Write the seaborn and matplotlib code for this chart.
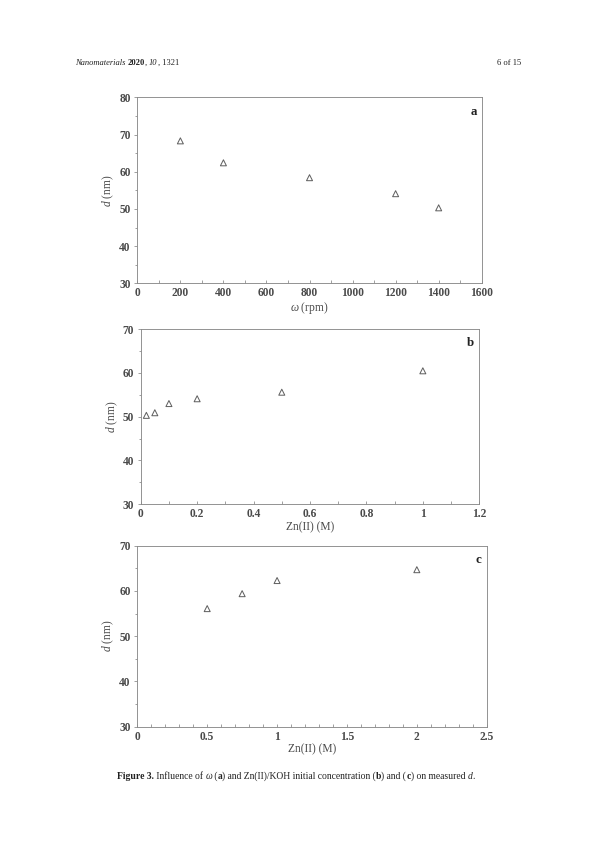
import matplotlib
matplotlib.use("Agg")
import matplotlib.pyplot as plt
import seaborn as sns
import pandas as pd
from matplotlib.ticker import MultipleLocator, FuncFormatter

# ---- data ----
omega_rpm = [200, 400, 800, 1200, 1400]
d_omega = [68.3, 62.4, 58.4, 54.1, 50.3]

zn_b = [0.02, 0.05, 0.1, 0.2, 0.5, 1.0]
d_b = [50.3, 50.9, 53.0, 54.1, 55.6, 60.5]

zn_c = [0.5, 0.75, 1.0, 2.0]
d_c = [56.1, 59.4, 62.3, 64.7]

sns.set_style("ticks")
plt.rcParams["font.family"] = ["Liberation Serif", "DejaVu Serif"]
plt.rcParams["mathtext.fontset"] = "custom"
plt.rcParams["mathtext.rm"] = "Liberation Serif"
plt.rcParams["mathtext.it"] = "Liberation Serif:italic"
plt.rcParams["mathtext.bf"] = "Liberation Serif:bold"

TXT = "#4a4a4a"
SPN = "#8a8a8a"
MK = "#606060"

fig = plt.figure(figsize=(595 / 72, 842 / 72), dpi=72)

def zfmt(v, pos):
    return f"{v:g}"

def style(ax, xlim, xmaj, xmin, ylim, ymaj, ymin, xlabel, letter, xfmt=None):
    ax.set_xlim(*xlim)
    ax.set_ylim(*ylim)
    ax.xaxis.set_major_locator(MultipleLocator(xmaj))
    ax.xaxis.set_minor_locator(MultipleLocator(xmin))
    ax.yaxis.set_major_locator(MultipleLocator(ymaj))
    ax.yaxis.set_minor_locator(MultipleLocator(ymin))
    if xfmt:
        ax.xaxis.set_major_formatter(xfmt)
    for s in ax.spines.values():
        s.set_color(SPN)
        s.set_linewidth(0.9)
        s.set_visible(True)
    ax.tick_params(axis="x", which="both", direction="in", length=3, width=0.8,
                   color=SPN, labelsize=11.5, labelcolor=TXT, pad=4)
    ax.tick_params(axis="y", which="major", direction="out", length=3.5, width=0.8,
                   color=SPN, labelsize=11.5, labelcolor=TXT, pad=3)
    ax.tick_params(axis="y", which="minor", direction="out", length=2.5, width=0.8,
                   color=SPN)
    for lab in ax.get_xticklabels() + ax.get_yticklabels():
        lab.set_fontweight("bold")
    ax.set_xlabel(xlabel, fontsize=11.5, color=TXT, labelpad=1)
    ax.set_ylabel(r"$d$ (nm)", fontsize=11.5, color=TXT, labelpad=3)
    ax.text(0.985, 0.955, letter, transform=ax.transAxes, ha="right", va="top",
            fontsize=13, fontweight="bold", color="#222222")

# panel a
ax1 = fig.add_axes([0.2308, 0.6635, 0.5788, 0.2209])
df_a = pd.DataFrame({"omega": omega_rpm, "d": d_omega})
sns.scatterplot(data=df_a, x="omega", y="d", ax=ax1, marker="^", s=36,
                facecolor="none", edgecolor=MK, linewidth=1.0)
style(ax1, (0, 1600), 200, 100, (30, 80), 10, 5, r"$\omega$ (rpm)", "a")

# panel b
ax2 = fig.add_axes([0.2365, 0.4014, 0.569, 0.2075])
df_b = pd.DataFrame({"zn": zn_b, "d": d_b})
sns.scatterplot(data=df_b, x="zn", y="d", ax=ax2, marker="^", s=36,
                facecolor="none", edgecolor=MK, linewidth=1.0)
style(ax2, (0, 1.2), 0.2, 0.1, (30, 70), 10, 5, "Zn(II) (M)", "b", FuncFormatter(zfmt))

# panel c
ax3 = fig.add_axes([0.2308, 0.1369, 0.5872, 0.2150])
df_c = pd.DataFrame({"zn": zn_c, "d": d_c})
sns.scatterplot(data=df_c, x="zn", y="d", ax=ax3, marker="^", s=36,
                facecolor="none", edgecolor=MK, linewidth=1.0)
style(ax3, (0, 2.5), 0.5, 0.1, (30, 70), 10, 5, "Zn(II) (M)", "c", FuncFormatter(zfmt))

# header and caption drawn as sequential runs of styled text
renderer = fig.canvas.get_renderer()

def text_width(txt, size, weight, style_):
    t1 = fig.text(0, 0, "|" + txt + "|", fontsize=size, fontweight=weight, fontstyle=style_)
    t2 = fig.text(0, 0, "||", fontsize=size, fontweight=weight, fontstyle=style_)
    w = t1.get_window_extent(renderer=renderer).width - t2.get_window_extent(renderer=renderer).width
    t1.remove()
    t2.remove()
    return w

def runs(x_px, y_px, pieces, size):
    x = x_px
    for txt, weight, style_ in pieces:
        fig.text(x / 595, 1 - y_px / 842, txt, fontsize=size, color="#222222",
                 fontweight=weight, fontstyle=style_, va="baseline", ha="left")
        x += text_width(txt, size, weight, style_)

runs(75, 65, [("Nanomaterials ", "normal", "italic"), ("2020", "bold", "normal"),
              (", ", "normal", "normal"), ("10", "normal", "italic"),
              (", 1321", "normal", "normal")], 8.5)
fig.text(521 / 595, 1 - 65 / 842, "6 of 15", fontsize=8.5, color="#222222",
         va="baseline", ha="right")

runs(117, 779, [("Figure 3.", "bold", "normal"), (" Influence of ", "normal", "normal"),
                ("\u03c9", "normal", "italic"), (" (", "normal", "normal"),
                ("a", "bold", "normal"),
                (") and Zn(II)/KOH initial concentration (", "normal", "normal"),
                ("b", "bold", "normal"), (") and (", "normal", "normal"),
                ("c", "bold", "normal"), (") on measured ", "normal", "normal"),
                ("d", "normal", "italic"), (".", "normal", "normal")], 9.65)

fig.savefig("out.png", dpi=72)
